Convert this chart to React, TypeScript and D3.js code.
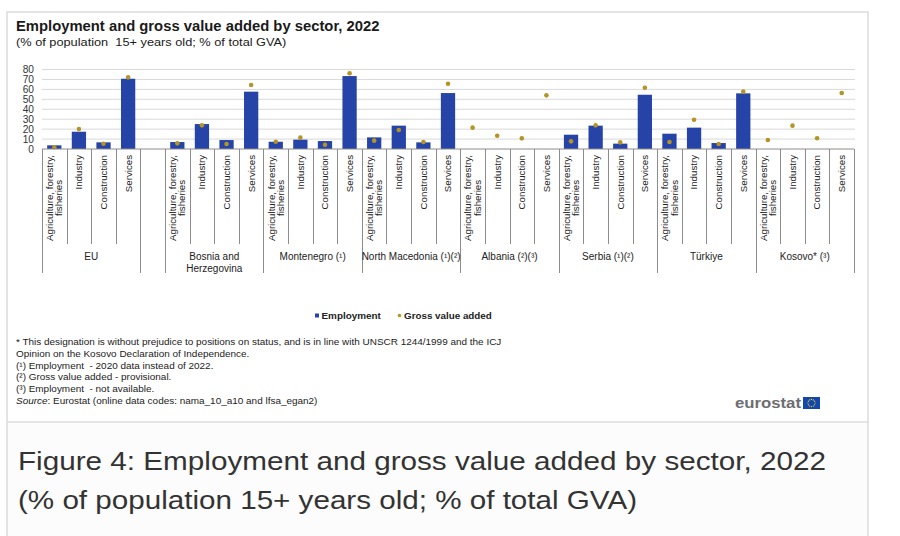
import React, { useEffect, useRef } from "react";
import * as d3 from "d3";

const W = 900;
const H = 536;

const groups = [
  "EU",
  "",
  "Bosnia and|Herzegovina",
  "Montenegro (¹)",
  "North Macedonia (¹)(²)",
  "Albania (²)(³)",
  "Serbia (¹)(²)",
  "Türkiye",
  "Kosovo* (³)",
];
const sectors = ["Agriculture, forestry,|fisheries", "Industry", "Construction", "Services"];

// Employment (% of population 15+), null = not available
const employmentEU = [3.7, 17.4, 6.7, 70.7];
const employmentBA = [7.0, 25.1, 9.0, 57.7];
const employmentME = [7.3, 9.4, 8.0, 73.4];
const employmentMK = [11.7, 23.5, 6.7, 56.3];
const employmentAL = [null, null, null, null];
const employmentRS = [14.4, 23.5, 5.4, 54.6];
const employmentTR = [15.4, 21.5, 6.0, 56.0];
const employmentXK = [null, null, null, null];

// Gross value added (% of total GVA)
const gvaEU = [1.7, 20.1, 5.3, 72.1];
const gvaBA = [5.7, 23.8, 5.0, 64.4];
const gvaME = [7.3, 11.4, 4.3, 76.2];
const gvaMK = [8.4, 19.1, 7.0, 65.7];
const gvaAL = [21.5, 13.4, 10.7, 54.0];
const gvaRS = [7.7, 23.8, 6.7, 61.7];
const gvaTR = [7.0, 29.5, 5.0, 57.7];
const gvaXK = [9.0, 23.5, 10.8, 56.3];

const yTicks = [0, 10, 20, 30, 40, 50, 60, 70, 80];

const footnotes = [
  "* This designation is without prejudice to positions on status, and is in line with UNSCR 1244/1999 and the ICJ",
  "Opinion on the Kosovo Declaration of Independence.",
  "(¹) Employment  - 2020 data instead of 2022.",
  "(²) Gross value added - provisional.",
  "(³) Employment  - not available.",
];

const FONT = "'Liberation Sans', Arial, sans-serif";
const BLUE = "#2644a7";
const GOLD = "#b39424";

export default function App() {
  const ref = useRef<SVGSVGElement>(null);

  useEffect(() => {
    const svg = d3.select(ref.current);
    svg.selectAll("*").remove();

    const stretch = (sel: any, factor: number) => {
      const len = (sel.node() as SVGTextElement).getComputedTextLength();
      sel.attr("textLength", len * factor).attr("lengthAdjust", "spacingAndGlyphs");
      return sel;
    };

    const empByGroup: (number | null)[][] = [employmentEU, [], employmentBA, employmentME, employmentMK, employmentAL, employmentRS, employmentTR, employmentXK];
    const gvaByGroup: (number | null)[][] = [gvaEU, [], gvaBA, gvaME, gvaMK, gvaAL, gvaRS, gvaTR, gvaXK];

    type Slot = { key: string; g: number; s: number; label: string; emp: number | null; gva: number | null };
    const slots: Slot[] = [];
    groups.forEach((g, gi) => {
      if (g === "") {
        slots.push({ key: `${gi}-gap`, g: gi, s: -1, label: "", emp: null, gva: null });
      } else {
        sectors.forEach((s, si) => {
          slots.push({ key: `${gi}-${si}`, g: gi, s: si, label: s, emp: empByGroup[gi][si], gva: gvaByGroup[gi][si] });
        });
      }
    });

    const x = d3.scaleBand<string>().domain(slots.map((d) => d.key)).range([42, 854]).padding(0);
    const y = d3.scaleLinear().domain([0, 80]).range([149, 69.5]);
    const bw = x.bandwidth();

    // frame
    svg.append("rect").attr("x", 7).attr("y", 422).attr("width", 861).attr("height", 120).attr("fill", "#fcfcfc");
    svg.append("rect").attr("x", 7).attr("y", 12).attr("width", 861).attr("height", 540)
      .attr("fill", "none").attr("stroke", "#dcdcdc").attr("stroke-width", 1.5);
    svg.append("line").attr("x1", 7).attr("x2", 868).attr("y1", 422).attr("y2", 422).attr("stroke", "#dcdcdc").attr("stroke-width", 1.5);

    // titles
    svg.append("text").attr("x", 16).attr("y", 31).attr("font-family", FONT).attr("font-weight", "bold")
      .attr("font-size", 14.8).attr("fill", "#1a1a1a").text("Employment and gross value added by sector, 2022");
    stretch(svg.append("text").attr("x", 16).attr("y", 46).attr("font-family", FONT)
      .attr("font-size", 11).attr("fill", "#1a1a1a").attr("xml:space", "preserve").text("(% of population  15+ years old; % of total GVA)"), 1.16);

    // gridlines
    svg.append("g").selectAll("line").data(yTicks.filter((t) => t > 0)).join("line")
      .attr("x1", 42).attr("x2", 855).attr("y1", (d) => y(d)).attr("y2", (d) => y(d))
      .attr("stroke", "#d9d9d9").attr("stroke-width", 1);

    // y labels
    svg.append("g").selectAll("text").data(yTicks).join("text")
      .attr("x", 34).attr("y", (d) => y(d)).attr("dy", "0.35em").attr("text-anchor", "end")
      .attr("font-family", FONT).attr("font-size", 10.2).attr("fill", "#333").text((d) => d);

    // bars
    svg.append("g").selectAll("rect").data(slots.filter((d) => d.emp != null)).join("rect")
      .attr("x", (d) => x(d.key)! + bw * 0.21).attr("width", bw * 0.58)
      .attr("y", (d) => y(d.emp as number)).attr("height", (d) => y(0) - y(d.emp as number))
      .attr("fill", BLUE);

    // gva dots
    svg.append("g").selectAll("circle").data(slots.filter((d) => d.gva != null)).join("circle")
      .attr("cx", (d) => x(d.key)! + bw / 2).attr("cy", (d) => y(d.gva as number)).attr("r", 2.3)
      .attr("fill", GOLD);

    // x axis line
    svg.append("line").attr("x1", 42).attr("x2", 854).attr("y1", y(0)).attr("y2", y(0))
      .attr("stroke", "#8c8c8c").attr("stroke-width", 1);

    // tick separators
    const bounds: { x: number; long: boolean }[] = [];
    slots.forEach((d, i) => {
      const prev = slots[i - 1];
      bounds.push({ x: x(d.key)!, long: !prev || prev.g !== d.g });
    });
    bounds.push({ x: 854, long: true });
    svg.append("g").selectAll("line").data(bounds).join("line")
      .attr("x1", (d) => Math.round(d.x) + 0.5).attr("x2", (d) => Math.round(d.x) + 0.5)
      .attr("y1", y(0)).attr("y2", (d) => (d.long ? 273 : 244))
      .attr("stroke", "#8c8c8c").attr("stroke-width", 1);

    // category labels
    const lh = 9.3;
    slots.filter((d) => d.label).forEach((d) => {
      const cx = x(d.key)! + bw / 2;
      const lines = d.label.split("|");
      const g = svg.append("g");
      const texts = lines.map((ln) =>
        g.append("text").attr("font-family", FONT).attr("font-size", 9.7).attr("fill", "#222")
          .attr("text-anchor", "middle").text(ln)
      );
      const maxLen = d3.max(texts, (t) => (t.node() as SVGTextElement).getComputedTextLength()) || 0;
      const cy = 155 + maxLen / 2;
      texts.forEach((t, li) => {
        const off = (li - (lines.length - 1) / 2) * lh;
        t.attr("transform", `translate(${cx},${cy}) rotate(-90)`).attr("x", 0).attr("y", off).attr("dy", "0.35em");
      });
    });

    // group labels
    groups.forEach((gname, gi) => {
      if (!gname) return;
      const gs = slots.filter((d) => d.g === gi);
      const x0 = x(gs[0].key)!;
      const x1 = x(gs[gs.length - 1].key)! + bw;
      const lines = gname.split("|");
      lines.forEach((ln, li) => {
        svg.append("text").attr("x", (x0 + x1) / 2).attr("y", 256 + li * 12).attr("dy", "0.35em")
          .attr("text-anchor", "middle").attr("font-family", FONT).attr("font-size", 10)
          .attr("fill", "#222").text(ln);
      });
    });

    // legend
    svg.append("rect").attr("x", 315).attr("y", 313.5).attr("width", 4).attr("height", 4).attr("fill", BLUE);
    stretch(svg.append("text").attr("x", 321.5).attr("y", 319).attr("font-family", FONT).attr("font-weight", "bold")
      .attr("font-size", 9).attr("fill", "#222").text("Employment"), 1.1);
    svg.append("circle").attr("cx", 399.5).attr("cy", 315.5).attr("r", 1.8).attr("fill", GOLD);
    stretch(svg.append("text").attr("x", 404).attr("y", 319).attr("font-family", FONT).attr("font-weight", "bold")
      .attr("font-size", 9).attr("fill", "#222").text("Gross value added"), 1.09);

    // footnotes
    footnotes.forEach((f, i) => {
      stretch(svg.append("text").attr("x", 16).attr("y", 345 + i * 11.8).attr("font-family", FONT)
        .attr("font-size", 9.3).attr("fill", "#222").attr("xml:space", "preserve").text(f), 1.07);
    });
    const src = svg.append("text").attr("x", 16).attr("y", 345 + 5 * 11.8).attr("font-family", FONT)
      .attr("font-size", 9.3).attr("fill", "#222");
    src.append("tspan").attr("font-style", "italic").text("Source");
    src.append("tspan").text(": Eurostat (online data codes: nama_10_a10 and lfsa_egan2)");
    stretch(src, 1.07);

    // eurostat logo
    svg.append("text").attr("x", 735).attr("y", 408).attr("font-family", FONT).attr("font-weight", "bold")
      .attr("font-size", 15).attr("fill", "#6d6e71").attr("textLength", 66).attr("lengthAdjust", "spacingAndGlyphs").text("eurostat");
    svg.append("rect").attr("x", 803).attr("y", 397).attr("width", 17).attr("height", 12).attr("fill", "#1447ad");
    d3.range(12).forEach((k) => {
      const a = (k / 12) * Math.PI * 2;
      svg.append("circle").attr("cx", 811.5 + Math.cos(a) * 3.6).attr("cy", 403 + Math.sin(a) * 3.6)
        .attr("r", 0.6).attr("fill", "#ffdd00");
    });

    // caption
    svg.append("text").attr("x", 18).attr("y", 470).attr("font-family", FONT).attr("font-size", 26)
      .attr("fill", "#333").attr("textLength", 808).attr("lengthAdjust", "spacingAndGlyphs")
      .text("Figure 4: Employment and gross value added by sector, 2022");
    svg.append("text").attr("x", 18).attr("y", 509).attr("font-family", FONT).attr("font-size", 26)
      .attr("fill", "#333").attr("textLength", 619).attr("lengthAdjust", "spacingAndGlyphs")
      .text("(% of population 15+ years old; % of total GVA)");
  }, []);

  return (
    <svg
      ref={ref}
      width={W}
      height={H}
      style={{ position: "absolute", left: 0, top: 0, background: "#fff" }}
    />
  );
}
